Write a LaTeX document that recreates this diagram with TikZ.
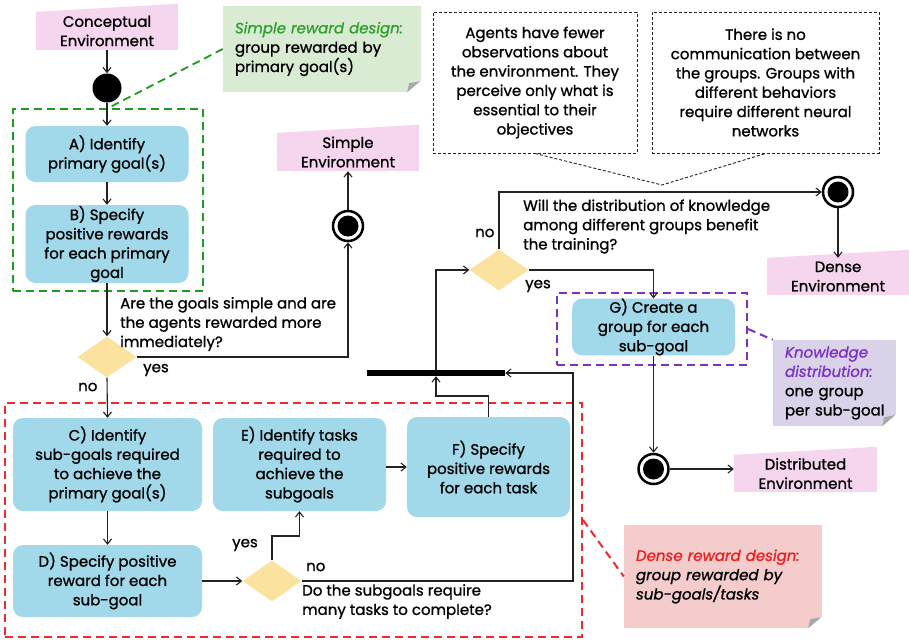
\documentclass[tikz,border=0pt]{standalone}
\usepackage{fontspec}
\setmainfont{Poppins}[FakeBold=1]
\usetikzlibrary{arrows.meta,shapes.geometric,calc}
\definecolor{boxblue}{HTML}{A1D9EA}
\definecolor{diay}{HTML}{FBE29E}
\definecolor{pinkc}{HTML}{F6D6EF}
\definecolor{greenn}{HTML}{D9EBD3}
\definecolor{purplen}{HTML}{D9D2E9}
\definecolor{redn}{HTML}{F4CCCC}
\definecolor{greend}{HTML}{1E9A1E}
\definecolor{redd}{HTML}{EE2A2A}
\definecolor{purpled}{HTML}{8030C0}
\definecolor{greent}{HTML}{2DA02D}
\definecolor{purplet}{HTML}{7B30C8}
\definecolor{redt}{HTML}{E8201F}
\definecolor{linec}{HTML}{222222}
\definecolor{foldc}{HTML}{A8A8A8}
\tikzset{
  arr/.style={draw=linec, line width=1.1pt, -{Straight Barb[length=5pt,width=8pt]}},
  bbox/.style={fill=boxblue, rounded corners=10pt, align=center, inner sep=0pt},
  dia/.style={diamond, fill=diay, inner sep=0pt, minimum width=59pt, minimum height=41pt},
  finst/.style={circle, draw=black, line width=2.5pt, fill=white, minimum size=30pt, inner sep=0pt,
    path picture={\fill[black] (path picture bounding box.center) circle (10.5pt);}},
  initst/.style={circle, fill=black, minimum size=29pt, inner sep=0pt},
  lbl/.style={align=left, anchor=west, inner sep=0pt},
  pnote/.style={fill=pinkc, align=center, inner sep=0pt},
  fnote/.style={align=left, inner xsep=12pt, inner ysep=0pt},
  gdash/.style={draw=greend, line width=1.8pt, dash pattern=on 8pt off 5pt},
  rdash/.style={draw=redd, line width=2pt, dash pattern=on 8pt off 5pt},
  pdash/.style={draw=purpled, line width=2pt, dash pattern=on 8pt off 5pt},
  kdash/.style={draw=linec, line width=0.9pt, dash pattern=on 3pt off 2pt},
}
\newcommand{\foldcorner}[1]{%
  \fill[white] ($(#1.south east)+(-14,0)$) -- (#1.south east) -- ($(#1.south east)+(0,-12)$) -- cycle;
  \fill[foldc] ($(#1.south east)+(-14,0)$) -- ($(#1.south east)+(-1,-11)$) -- ($(#1.south east)+(-12,-9)$) -- cycle;}
\begin{document}
\begin{tikzpicture}[x=1pt,y=-1pt,font=\fontsize{15}{19.3}\selectfont]
\useasboundingbox[fill=white] (0,0) rectangle (909,641);

% dashed groups
\node[gdash, minimum width=190pt, minimum height=182pt, inner sep=0pt] (gbox) at (108,200) {};
\node[rdash, minimum width=577pt, minimum height=234pt, inner sep=0pt] (rbox) at (293.5,520) {};
\node[pdash, minimum width=190pt, minimum height=72pt, inner sep=0pt] (pbox) at (652,329) {};

% pink notes
\node[pnote, minimum width=142pt, minimum height=38pt] (conc) at (107,31) {Conceptual\\Environment};
\fill[pinkc] (conc.north west) -- (conc.north east) -- ++(0,-8) -- cycle;
\node[pnote, minimum width=142pt, minimum height=38pt] (simple) at (348,152) {Simple\\Environment};
\fill[pinkc] (simple.north west) -- (simple.north east) -- ++(0,-8) -- cycle;
\node[pnote, minimum width=142pt, minimum height=37pt] (dense) at (838,276.5) {Dense\\Environment};
\fill[pinkc] (dense.north west) -- (dense.north east) -- ++(0,-8) -- cycle;
\node[pnote, minimum width=143pt, minimum height=37pt] (dist) at (805.5,473.5) {Distributed\\Environment};
\fill[pinkc] (dist.north west) -- (dist.north east) -- ++(0,-8) -- cycle;

% folded notes
\node[fnote, fill=greenn, minimum width=198pt, minimum height=86pt, text width=174pt] (gnote) at (322,49)
  {\textit{\textcolor{greent}{Simple reward design:}}\\group rewarded by\\primary goal(s)};
\foldcorner{gnote}
\node[fnote, fill=purplen, minimum width=123pt, minimum height=86pt, text width=99pt] (knote) at (834.5,383)
  {\textit{\textcolor{purplet}{Knowledge}}\\\textit{\textcolor{purplet}{distribution:}}\\one group\\\mbox{per sub-goal}};
\foldcorner{knote}
\node[fnote, fill=redn, minimum width=198pt, minimum height=103pt, text width=174pt] (rnote) at (723,576.5)
  {\itshape\textcolor{redt}{Dense reward design:}\\group rewarded by\\sub-goals/tasks};
\foldcorner{rnote}

% top dashed boxes
\node[kdash, minimum width=204pt, minimum height=141pt, align=center, inner sep=0pt] (obs) at (535,82.5)
  {Agents have fewer\\observations about\\the environment. They\\perceive only what is\\essential to their\\objectives};
\node[kdash, minimum width=227pt, minimum height=141pt, align=center, inner sep=0pt] (comm) at (765.5,82.5)
  {There is no\\communication between\\the groups. Groups with\\different behaviors\\require different neural\\networks};
\coordinate (cp) at (662,185);
\draw[kdash] (obs.south) -- (cp) -- (comm.south);

% activity nodes
\node[initst] (init) at (107,88) {};
\node[bbox, minimum width=163pt, minimum height=56pt] (A) at (107,154) {A) Identify\\primary goal(s)};
\node[bbox, minimum width=163pt, minimum height=78pt] (B) at (107,244) {B) Specify\\positive rewards\\for each primary\\goal};
\node[dia] (d1) at (107,357) {};
\node[finst] (fin1) at (348,226) {};
\node[bbox, minimum width=189pt, minimum height=93pt] (C) at (107.5,464.5) {C) Identify\\sub-goals required\\to achieve the\\primary goal(s)};
\node[bbox, minimum width=189pt, minimum height=72pt] (D) at (107.5,581) {D) Specify positive\\reward for each\\sub-goal};
\node[dia] (d2) at (272,581) {};
\node[bbox, minimum width=173pt, minimum height=93pt] (E) at (299.5,464.5) {E) Identify tasks\\required to\\achieve the\\subgoals};
\node[bbox, minimum width=163pt, minimum height=100pt] (F) at (488.5,467) {F) Specify\\positive rewards\\for each task};
\node[fill=black, minimum width=138pt, minimum height=6pt, inner sep=0pt] (bar) at (436,373) {};
\node[dia] (d3) at (499,270) {};
\node[finst] (fin2) at (838,192) {};
\node[bbox, minimum width=163pt, minimum height=56pt] (G) at (653.5,327) {G) Create a\\group for each\\sub-goal};
\node[finst] (fin3) at (653.5,469) {};

% labels
\node[lbl] at (120,324) {Are the goals simple and are\\the agents rewarded more\\immediately?};
\node[lbl] at (143,370) {yes};
\node[lbl] at (78,387) {no};
\node[lbl] at (302,601.5) {Do the subgoals require\\many tasks to complete?};
\node[lbl] at (232,545) {yes};
\node[lbl] at (306,567) {no};
\node[lbl] at (523,226.5) {Will the distribution of knowledge\\among different groups benefit\\the training?};
\node[lbl] at (475,233) {no};
\node[lbl] at (525,286) {yes};

% connectors
\draw[arr] (conc.south) -- (init.north);
\draw[arr] (init.south) -- (A.north);
\draw[arr] (A.south) -- (B.north);
\draw[arr] (B.south) -- (d1.north);
\draw[arr] (d1.east) -| (fin1.south);
\draw[arr] (fin1.north) -- (simple.south);
\draw[arr] (d1.south) -- (C.north);
\draw[arr] (C.south) -- (D.north);
\draw[arr] (D.east) -- (d2.west);
\coordinate (yesturn) at (272,536);
\draw[arr] (d2.north) -- (yesturn) -| (E.south);
\draw[arr] (E.east |- F.west) -- (F.west);
\coordinate (noturn) at (573,581);
\draw[arr] (d2.east) -- (noturn) |- (bar.east);
\coordinate (fturn) at (488.5,396);
\draw[arr] (F.north) -- (fturn) -| (bar.south);
\draw[arr] (bar.north) |- (d3.west);
\draw[arr] (d3.north) |- (fin2.west);
\draw[arr] (d3.east) -| (G.north);
\draw[arr] (fin2.south) -- (dense.north);
\draw[arr] (G.south) -- (fin3.north);
\draw[arr] (fin3.east) -- (fin3.east -| dist.west);

% note connectors
\draw[gdash] (gnote.west) -- (gbox.north);
\draw[pdash] (pbox.east) -- (knote.north west);
\draw[rdash] (rbox.east) -- (rnote.west);
\end{tikzpicture}
\end{document}
